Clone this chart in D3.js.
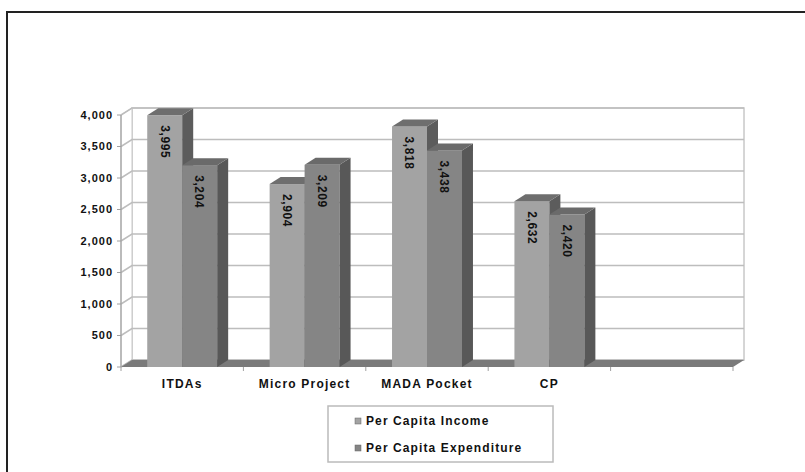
<!DOCTYPE html>
<html>
<head>
<meta charset="utf-8">
<script src="https://cdn.jsdelivr.net/npm/d3@7"></script>
<style>
  body { margin: 0; background: #fff; }
  svg text { font-family: "Liberation Sans", Arial, sans-serif; font-weight: bold; fill: #111; }
</style>
</head>
<body>
<script>
// data
const categories = ["ITDAs", "Micro Project", "MADA Pocket", "CP", ""];
const series = ["Per Capita Income", "Per Capita Expenditure"];
const income = [3995, 2904, 3818, 2632];
const expenditure = [3204, 3209, 3438, 2420];
const yTicks = [0, 500, 1000, 1500, 2000, 2500, 3000, 3500, 4000];

const W = 805, H = 472;
const dx = 11, dy = -7; // 3d depth offset

const svg = d3.select("body").append("svg").attr("width", W).attr("height", H);

// outer frame (top + left only visible)
svg.append("path")
  .attr("d", `M7,${H} V12 H${W}`)
  .attr("fill", "none").attr("stroke", "#222").attr("stroke-width", 2);

const x = d3.scaleBand().domain(categories).range([121, 733]);
const xs = d3.scaleBand().domain(series).range([0, x.bandwidth()]).paddingOuter(0.75);
const y = d3.scaleLinear().domain([0, 4000]).range([367, 115]);

const x0 = x.range()[0], x1 = x.range()[1];

// back wall
svg.append("rect")
  .attr("x", x0 + dx).attr("y", y(4000) + dy)
  .attr("width", x1 - x0).attr("height", y(0) - y(4000))
  .attr("fill", "#fff").attr("stroke", "#c8c8c8").attr("stroke-width", 1.5);

// side wall
svg.append("path")
  .attr("d", `M${x0},${y(0)} L${x0},${y(4000)} L${x0 + dx},${y(4000) + dy} L${x0 + dx},${y(0) + dy} Z`)
  .attr("fill", "#fff").attr("stroke", "#c8c8c8").attr("stroke-width", 1);

// gridlines
const grid = svg.append("g").attr("fill", "none").attr("stroke", "#bdbdbd").attr("stroke-width", 1.5);
yTicks.forEach(t => {
  grid.append("path")
    .attr("d", `M${x0},${y(t)} L${x0 + dx},${y(t) + dy} H${x1 + dx}`);
});

// floor
svg.append("path")
  .attr("d", `M${x0},${y(0)} L${x1},${y(0)} L${x1 + dx},${y(0) + dy} L${x0 + dx},${y(0) + dy} Z`)
  .attr("fill", "#7a7a7a");

// y axis
svg.append("line")
  .attr("x1", x0).attr("x2", x0).attr("y1", y(4000)).attr("y2", y(0))
  .attr("stroke", "#a0a0a0").attr("stroke-width", 1.2);
const yAxis = svg.append("g");
yTicks.forEach(t => {
  yAxis.append("line")
    .attr("x1", x0 - 4).attr("x2", x0).attr("y1", y(t)).attr("y2", y(t))
    .attr("stroke", "#a0a0a0");
  yAxis.append("text")
    .attr("x", x0 - 8).attr("y", y(t)).attr("dy", "0.35em")
    .attr("text-anchor", "end").attr("font-size", 11).attr("letter-spacing", 1)
    .text(d3.format(",")(t));
});

// category ticks + labels
x.domain().forEach(c => {
  svg.append("line")
    .attr("x1", x(c)).attr("x2", x(c)).attr("y1", y(0)).attr("y2", y(0) + 4)
    .attr("stroke", "#a0a0a0");
});
svg.append("line").attr("x1", x1).attr("x2", x1).attr("y1", y(0)).attr("y2", y(0) + 4).attr("stroke", "#a0a0a0");
categories.forEach(c => {
  svg.append("text")
    .attr("x", x(c) + x.bandwidth() / 2).attr("y", 388)
    .attr("text-anchor", "middle").attr("font-size", 12).attr("letter-spacing", 1.2)
    .text(c);
});

// bars
const faces = {
  "Per Capita Income": { front: "#a3a3a3", side: "#5c5c5c", top: "#6e6e6e" },
  "Per Capita Expenditure": { front: "#858585", side: "#585858", top: "#6a6a6a" }
};
const values = { "Per Capita Income": income, "Per Capita Expenditure": expenditure };
const bars = svg.append("g");
categories.slice(0, 4).forEach((c, i) => {
  series.forEach(s => {
    const v = values[s][i];
    const bx = x(c) + xs(s), bw = xs.bandwidth();
    const top = y(v), base = y(0);
    const f = faces[s];
    const g = bars.append("g");
    g.append("rect").attr("x", bx).attr("y", top).attr("width", bw).attr("height", base - top).attr("fill", f.front);
    g.append("path")
      .attr("d", `M${bx + bw},${base} V${top} L${bx + bw + dx},${top + dy} V${base + dy} Z`)
      .attr("fill", f.side);
    g.append("path")
      .attr("d", `M${bx},${top} L${bx + dx},${top + dy} H${bx + bw + dx} L${bx + bw},${top} Z`)
      .attr("fill", f.top);
    g.append("text")
      .attr("transform", `translate(${bx + bw / 2},${top + 10}) rotate(90)`)
      .attr("dy", "0.35em").attr("font-size", 12).attr("letter-spacing", 0.6)
      .text(d3.format(",")(v));
  });
});

// legend
const legend = svg.append("g");
legend.append("rect")
  .attr("x", 328).attr("y", 406).attr("width", 225).attr("height", 56)
  .attr("fill", "#fff").attr("stroke", "#bbb").attr("stroke-width", 1.5);
series.forEach((s, i) => {
  const ly = 421 + i * 27;
  legend.append("rect")
    .attr("x", 355).attr("y", ly - 3).attr("width", 6).attr("height", 6)
    .attr("fill", faces[s].front).attr("stroke", "#666").attr("stroke-width", 0.5);
  legend.append("text")
    .attr("x", 366).attr("y", ly).attr("dy", "0.35em")
    .attr("font-size", 12).attr("letter-spacing", 1.1)
    .text(s);
});
</script>
</body>
</html>
